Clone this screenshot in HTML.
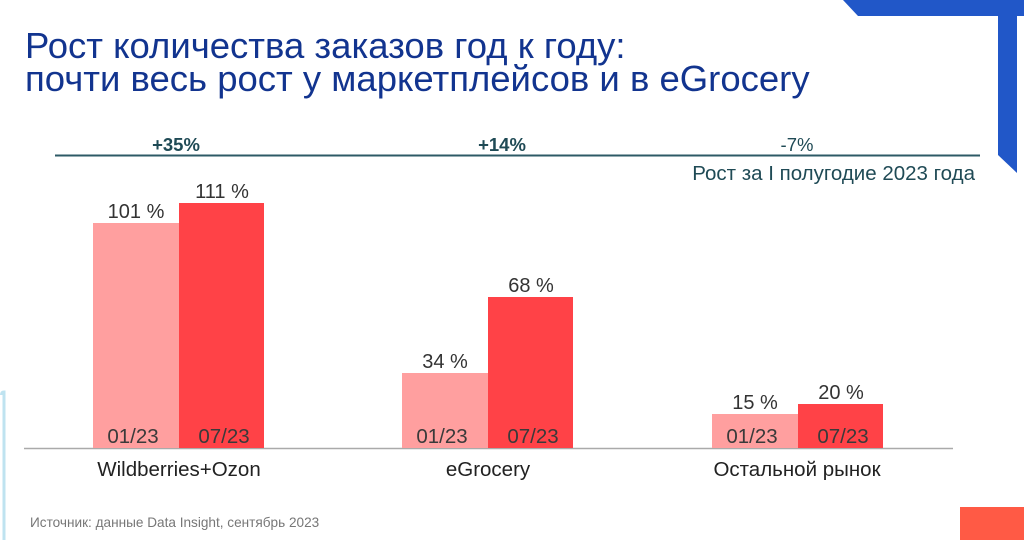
<!DOCTYPE html>
<html><head><meta charset="utf-8"><style>
body{margin:0;width:1024px;height:540px;overflow:hidden;background:#fff;position:relative;font-family:"Liberation Sans",sans-serif}
.a{position:absolute;white-space:nowrap}
.t{left:25px;color:#12348f;font-size:36.5px;line-height:34px}
.b{position:absolute}
.l{background:#ff9f9f}.d{background:#ff4247}
.v{font-size:20px;color:#333;text-align:center;width:86px;line-height:22px}
.g{font-size:20.5px;color:#3a3a3a;text-align:center;width:86px;line-height:22px}
.c{font-size:20.5px;color:#222;text-align:center;width:240px;line-height:22px}
.p{font-size:18.5px;color:#1f4a55;font-weight:bold;text-align:center;width:100px;line-height:22px}
</style></head><body>
<svg class="b" style="left:0;top:0" width="1024" height="540">
<polygon points="843,0 1024,0 1024,16 858,16" fill="#2157c8"/>
<polygon points="998,0 1017,0 1017,173 998,155" fill="#2157c8"/>
<path d="M1.5,395 Q1.5,392 4,392 L4,540" stroke="#bfe3f0" stroke-width="3" fill="none"/>
<rect x="960" y="507" width="64" height="33" fill="#ff5a45"/>
<line x1="55" y1="155.5" x2="980" y2="155.5" stroke="#2d5a66" stroke-width="2"/>
<line x1="24" y1="448.5" x2="953" y2="448.5" stroke="#aaa" stroke-width="1.5"/>
</svg>
<div class="a t" style="top:29px">Рост количества заказов год к году:</div>
<div class="a t" style="top:62px">почти весь рост у маркетплейсов и в eGrocery</div>
<div class="a p" style="left:126px;top:134px">+35%</div>
<div class="a p" style="left:452px;top:134px">+14%</div>
<div class="a p" style="left:747px;top:134px;font-weight:normal">-7%</div>
<div class="a" style="right:49px;top:162px;font-size:20.5px;line-height:24px;color:#1f4a55">Рост за I полугодие 2023 года</div>

<div class="b l" style="left:93px;top:223px;width:86px;height:225px"></div>
<div class="b d" style="left:179px;top:203px;width:85px;height:245px"></div>
<div class="b l" style="left:402px;top:373px;width:86px;height:75px"></div>
<div class="b d" style="left:488px;top:297px;width:85px;height:151px"></div>
<div class="b l" style="left:712px;top:414px;width:86px;height:34px"></div>
<div class="b d" style="left:798px;top:404px;width:85px;height:44px"></div>

<div class="a v" style="left:93px;top:201px">101 %</div>
<div class="a v" style="left:179px;top:181px">111 %</div>
<div class="a v" style="left:402px;top:351px">34 %</div>
<div class="a v" style="left:488px;top:275px">68 %</div>
<div class="a v" style="left:712px;top:392px">15 %</div>
<div class="a v" style="left:798px;top:382px">20 %</div>

<div class="a g" style="left:90px;top:426px">01/23</div>
<div class="a g" style="left:181px;top:426px">07/23</div>
<div class="a g" style="left:399px;top:426px">01/23</div>
<div class="a g" style="left:490px;top:426px">07/23</div>
<div class="a g" style="left:709px;top:426px">01/23</div>
<div class="a g" style="left:800px;top:426px">07/23</div>

<div class="a c" style="left:59px;top:459px">Wildberries+Ozon</div>
<div class="a c" style="left:368px;top:459px">eGrocery</div>
<div class="a c" style="left:677px;top:459px">Остальной рынок</div>
<div class="a" style="left:30px;top:515px;font-size:13.6px;color:#777">Источник: данные Data Insight, сентябрь 2023</div>
</body></html>
